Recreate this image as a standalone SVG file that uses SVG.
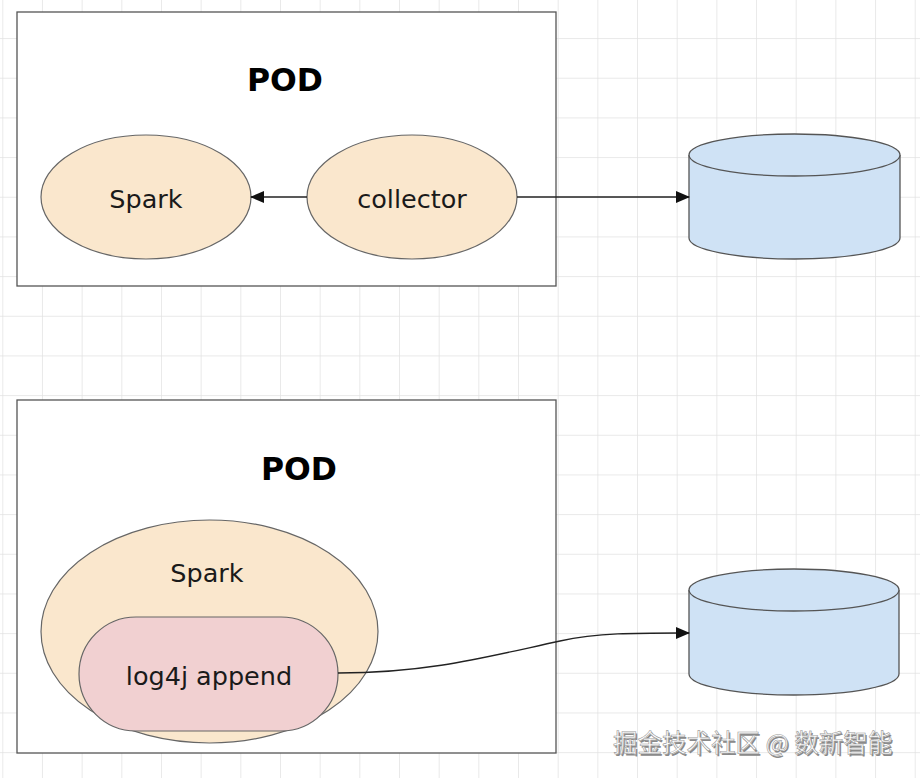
<svg xmlns="http://www.w3.org/2000/svg" width="920" height="778" viewBox="0 0 920 778">
  <defs>
    <pattern id="grid" x="2.3" y="-1.6" width="39.67" height="39.67" patternUnits="userSpaceOnUse">
      <path d="M0,0 H39.67 M0,0 V39.67" fill="none" stroke="#e2e2e2" stroke-width="1.5"/>
    </pattern>
    <marker id="arrow" viewBox="0 0 14 12" refX="13" refY="6" markerWidth="14" markerHeight="12" markerUnits="userSpaceOnUse" orient="auto">
      <path d="M0,0 L14,6 L0,12 Z" fill="#111"/>
    </marker>
    <style>
      .pod { fill: #ffffff; stroke: #555555; stroke-width: 1.3; }
      .title { font-family: "DejaVu Sans", "Liberation Sans", sans-serif; font-weight: bold; font-size: 31.5px; fill: #000; text-anchor: middle; }
      .lbl { font-family: "DejaVu Sans", "Liberation Sans", sans-serif; font-size: 25.5px; fill: #1a1a1a; text-anchor: middle; }
      .spark { fill: #fae7cd; stroke: #666666; stroke-width: 1.2; }
      .log { fill: #f1d0d1; stroke: #666666; stroke-width: 1.2; }
      .db { fill: #cfe2f5; stroke: #555555; stroke-width: 1.3; }
      .edge { fill: none; stroke: #222; stroke-width: 1.3; }
      .wm { font-family: "Noto Sans CJK SC", "DejaVu Sans", sans-serif; font-size: 24.5px; }
    </style>
  </defs>
  <rect x="0" y="0" width="920" height="778" fill="#ffffff"/>
  <rect x="0" y="0" width="920" height="778" fill="url(#grid)"/>

  <g id="pod-top">
    <rect class="pod" x="17" y="12" width="539" height="274"/>
    <text class="title" x="285" y="91">POD</text>
  </g>
  <g id="spark-top">
    <ellipse class="spark" cx="146" cy="197" rx="105" ry="62"/>
    <text class="lbl" x="146" y="208">Spark</text>
  </g>
  <g id="collector">
    <ellipse class="spark" cx="412" cy="197" rx="105" ry="62"/>
    <text class="lbl" x="412" y="208">collector</text>
  </g>
  <g id="db-top">
    <path class="db" d="M689,155 A105.5,21 0 0 1 900,155 V238 A105.5,21 0 0 1 689,238 Z"/>
    <path class="db" fill="none" d="M689,155 A105.5,21 0 0 0 900,155"/>
  </g>

  <g id="pod-bottom">
    <rect class="pod" x="17" y="400" width="539" height="353"/>
    <text class="title" x="299" y="480">POD</text>
  </g>
  <g id="spark-bottom">
    <ellipse class="spark" cx="209.5" cy="631.5" rx="168.5" ry="111.5"/>
    <text class="lbl" x="207" y="582">Spark</text>
  </g>
  <g id="log4j">
    <rect class="log" x="79" y="617" width="259" height="114" rx="57" ry="57"/>
    <text class="lbl" x="209" y="685">log4j append</text>
  </g>
  <g id="db-bottom">
    <path class="db" d="M689,590 A105,21 0 0 1 899,590 V674 A105,21 0 0 1 689,674 Z"/>
    <path class="db" fill="none" d="M689,590 A105,21 0 0 0 899,590"/>
  </g>

  <g id="connectors">
    <line class="edge" x1="307" y1="197" x2="251" y2="197" marker-end="url(#arrow)"/>
    <line class="edge" x1="517" y1="197" x2="689" y2="197" marker-end="url(#arrow)"/>
    <path class="edge" d="M338,673 C430,673 490,656 560,641 C600,632.5 640,633 689,633" marker-end="url(#arrow)"/>
  </g>

  <g id="watermark">
    <text class="wm" x="614.5" y="753.5" fill="#8a8a8a">掘金技术社区 @ 数新智能</text>
    <text class="wm" x="613" y="752" fill="#ffffff" stroke="#9a9a9a" stroke-width="0.6">掘金技术社区 @ 数新智能</text>
  </g>
</svg>
